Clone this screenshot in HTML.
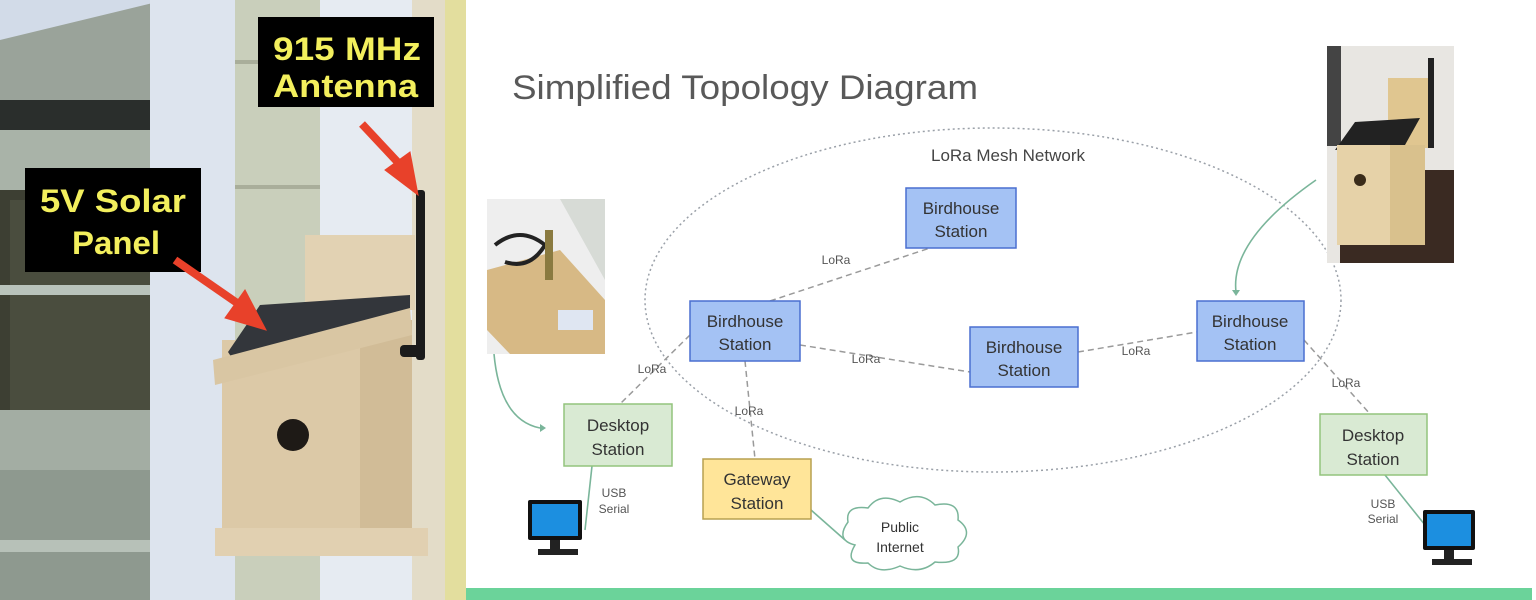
<!DOCTYPE html>
<html><head><meta charset="utf-8"><style>
html,body{margin:0;padding:0;width:1536px;height:600px;overflow:hidden;background:#fff}
svg{display:block}
text{font-family:"Liberation Sans",sans-serif}
</style></head><body>
<svg width="1536" height="600" viewBox="0 0 1536 600" xmlns="http://www.w3.org/2000/svg">
<!-- LEFT PHOTO -->
<rect x="0" y="0" width="466" height="600" fill="#d2dbe8"/>
<polygon points="0,40 165,0 165,110 0,130" fill="#9aa39a"/>
<rect x="0" y="100" width="160" height="30" fill="#2a2e2c"/>
<rect x="0" y="130" width="160" height="80" fill="#a9b3a8"/>
<rect x="0" y="190" width="150" height="220" fill="#3d3f33"/>
<rect x="10" y="200" width="140" height="210" fill="#4a4d3e"/>
<rect x="0" y="285" width="150" height="10" fill="#b9c3bb"/>
<rect x="0" y="410" width="150" height="60" fill="#a3ada3"/>
<rect x="0" y="470" width="150" height="130" fill="#8e998f"/>
<rect x="0" y="540" width="150" height="12" fill="#b7c1b8"/>
<rect x="150" y="0" width="85" height="600" fill="#dde4ee"/>
<rect x="235" y="0" width="85" height="600" fill="#c9cfbb"/>
<rect x="235" y="60" width="85" height="4" fill="#a9ae9a"/>
<rect x="235" y="185" width="85" height="4" fill="#a9ae9a"/>
<rect x="320" y="0" width="92" height="600" fill="#e6ebf2"/>
<rect x="412" y="0" width="33" height="600" fill="#e3dcc8"/>
<rect x="445" y="0" width="21" height="600" fill="#e3de9e"/>
<!-- birdhouse -->
<rect x="305" y="235" width="110" height="75" fill="#e2d2b3"/>
<rect x="222" y="340" width="190" height="190" fill="#dcc9a7"/>
<rect x="360" y="320" width="52" height="210" fill="#d1bc97"/>
<polygon points="228,352 260,305 410,295 410,315 232,358" fill="#33363b"/>
<polygon points="213,360 410,308 412,335 215,385" fill="#d9c6a3"/>
<rect x="215" y="528" width="213" height="28" fill="#e1d0b1"/>
<circle cx="293" cy="435" r="16" fill="#1e1a16"/>
<rect x="416" y="190" width="9" height="170" fill="#1b1b1b" rx="3"/>
<rect x="400" y="345" width="22" height="12" fill="#1b1b1b" rx="4"/>
<!-- labels -->
<rect x="258" y="17" width="176" height="90" fill="#000"/>
<text x="273" y="60" textLength="148" lengthAdjust="spacingAndGlyphs" font-size="32" font-weight="bold" fill="#f3ef5d">915 MHz</text>
<text x="273" y="97" textLength="145" lengthAdjust="spacingAndGlyphs" font-size="32" font-weight="bold" fill="#f3ef5d">Antenna</text>
<rect x="25" y="168" width="176" height="104" fill="#000"/>
<text x="40" y="212" textLength="146" lengthAdjust="spacingAndGlyphs" font-size="32" font-weight="bold" fill="#f3ef5d">5V Solar</text>
<text x="72" y="254" textLength="88" lengthAdjust="spacingAndGlyphs" font-size="32" font-weight="bold" fill="#f3ef5d">Panel</text>
<g fill="#e8412a" stroke="#e8412a">
<line x1="362" y1="124" x2="405" y2="170" stroke-width="8"/>
<polygon points="418,195 385,170 410,152"/>
<line x1="175" y1="260" x2="240" y2="305" stroke-width="8"/>
<polygon points="266,330 225,318 245,290"/>
</g>
<!-- RIGHT DIAGRAM -->
<rect x="466" y="0" width="1070" height="600" fill="#fff"/>
<text x="512" y="99" font-size="34" textLength="466" lengthAdjust="spacingAndGlyphs" fill="#595959">Simplified Topology Diagram</text>
<ellipse cx="993" cy="300" rx="348" ry="172" fill="none" stroke="#9aa0a8" stroke-width="1.5" stroke-dasharray="2,3"/>
<text x="1008" y="161" text-anchor="middle" font-size="17" fill="#444">LoRa Mesh Network</text>
<g stroke="#9a9a9a" stroke-width="1.5" stroke-dasharray="6,4" fill="none">
<line x1="770" y1="301" x2="930" y2="248"/>
<line x1="800" y1="345" x2="970" y2="372"/>
<line x1="1078" y1="352" x2="1197" y2="332"/>
<line x1="690" y1="335" x2="620" y2="404"/>
<line x1="745" y1="361" x2="755" y2="459"/>
<line x1="1304" y1="340" x2="1370" y2="414"/>
</g>
<g font-size="12" fill="#555" text-anchor="middle">
<text x="836" y="264">LoRa</text>
<text x="866" y="363">LoRa</text>
<text x="1136" y="355">LoRa</text>
<text x="652" y="373">LoRa</text>
<text x="749" y="415">LoRa</text>
<text x="1346" y="387">LoRa</text>
<text x="614" y="497">USB</text><text x="614" y="513">Serial</text>
<text x="1383" y="508">USB</text><text x="1383" y="523">Serial</text>
</g>
<g stroke="#7ab59a" stroke-width="1.6" fill="none">
<line x1="592" y1="466" x2="585" y2="530"/>
<line x1="1385" y1="475" x2="1425" y2="525"/>
<line x1="811" y1="510" x2="845" y2="540"/>
<path d="M494 354 Q500 420 540 428"/>
<path d="M1316 180 Q1230 240 1236 292"/>
</g>
<polygon points="540,424 540,432 546,428" fill="#7ab59a"/>
<polygon points="1232,290 1240,290 1236,296" fill="#7ab59a"/>
<g font-size="17" fill="#333" text-anchor="middle">
<rect x="906" y="188" width="110" height="60" fill="#a4c2f4" stroke="#4a6fd0" stroke-width="1.5"/>
<text x="961" y="214">Birdhouse</text><text x="961" y="237">Station</text>
<rect x="690" y="301" width="110" height="60" fill="#a4c2f4" stroke="#4a6fd0" stroke-width="1.5"/>
<text x="745" y="327">Birdhouse</text><text x="745" y="350">Station</text>
<rect x="970" y="327" width="108" height="60" fill="#a4c2f4" stroke="#4a6fd0" stroke-width="1.5"/>
<text x="1024" y="353">Birdhouse</text><text x="1024" y="376">Station</text>
<rect x="1197" y="301" width="107" height="60" fill="#a4c2f4" stroke="#4a6fd0" stroke-width="1.5"/>
<text x="1250" y="327">Birdhouse</text><text x="1250" y="350">Station</text>
<rect x="564" y="404" width="108" height="62" fill="#d9ead3" stroke="#93c47d" stroke-width="1.5"/>
<text x="618" y="431">Desktop</text><text x="618" y="455">Station</text>
<rect x="703" y="459" width="108" height="60" fill="#ffe599" stroke="#b7a050" stroke-width="1.5"/>
<text x="757" y="485">Gateway</text><text x="757" y="509">Station</text>
<rect x="1320" y="414" width="107" height="61" fill="#d9ead3" stroke="#93c47d" stroke-width="1.5"/>
<text x="1373" y="441">Desktop</text><text x="1373" y="465">Station</text>
</g>
<!-- cloud -->
<path d="M855 545 Q835 540 848 522 Q845 505 868 508 Q880 492 900 502 Q920 490 935 505 Q960 500 958 520 Q975 532 958 547 Q962 565 935 562 Q920 575 900 566 Q880 575 868 563 Q843 565 855 545 Z" fill="#fff" stroke="#7ab59a" stroke-width="1.5"/>
<text x="900" y="532" text-anchor="middle" font-size="14" fill="#333">Public</text>
<text x="900" y="552" text-anchor="middle" font-size="14" fill="#333">Internet</text>
<!-- monitors -->
<g>
<rect x="528" y="500" width="54" height="40" fill="#111" rx="2"/>
<rect x="532" y="504" width="46" height="32" fill="#1c8fe0"/>
<rect x="550" y="540" width="10" height="10" fill="#222"/>
<rect x="538" y="549" width="40" height="6" fill="#222"/>
<rect x="1423" y="510" width="52" height="40" fill="#111" rx="2"/>
<rect x="1427" y="514" width="44" height="32" fill="#1c8fe0"/>
<rect x="1444" y="550" width="10" height="10" fill="#222"/>
<rect x="1432" y="559" width="40" height="6" fill="#222"/>
</g>
<!-- small photos -->
<rect x="487" y="199" width="118" height="155" fill="#eee"/>
<polygon points="487,199 605,199 605,280 560,199" fill="#d7dbd6"/>
<polygon points="487,270 560,250 605,300 605,354 510,354 487,330" fill="#d7b985"/>
<path d="M495 245 Q520 225 545 245 Q530 270 505 262" fill="none" stroke="#222" stroke-width="4"/>
<rect x="545" y="230" width="8" height="50" fill="#8a7a40"/>
<rect x="558" y="310" width="35" height="20" fill="#dfe6f2"/>
<rect x="1327" y="46" width="127" height="217" fill="#e8e6e2"/>
<rect x="1327" y="46" width="14" height="100" fill="#444"/>
<rect x="1340" y="170" width="114" height="93" fill="#3a2a22"/>
<rect x="1388" y="78" width="42" height="70" fill="#e0c690"/>
<polygon points="1335,150 1355,122 1420,118 1405,145" fill="#222"/>
<rect x="1337" y="145" width="88" height="100" fill="#e6d2a8"/>
<rect x="1390" y="145" width="35" height="100" fill="#d9c18d"/>
<circle cx="1360" cy="180" r="6" fill="#3a2c1a"/>
<rect x="1428" y="58" width="6" height="90" fill="#222"/>
<!-- bottom bar -->
<rect x="466" y="588" width="1066" height="12" fill="#6bd39a"/>
</svg>
</body></html>
